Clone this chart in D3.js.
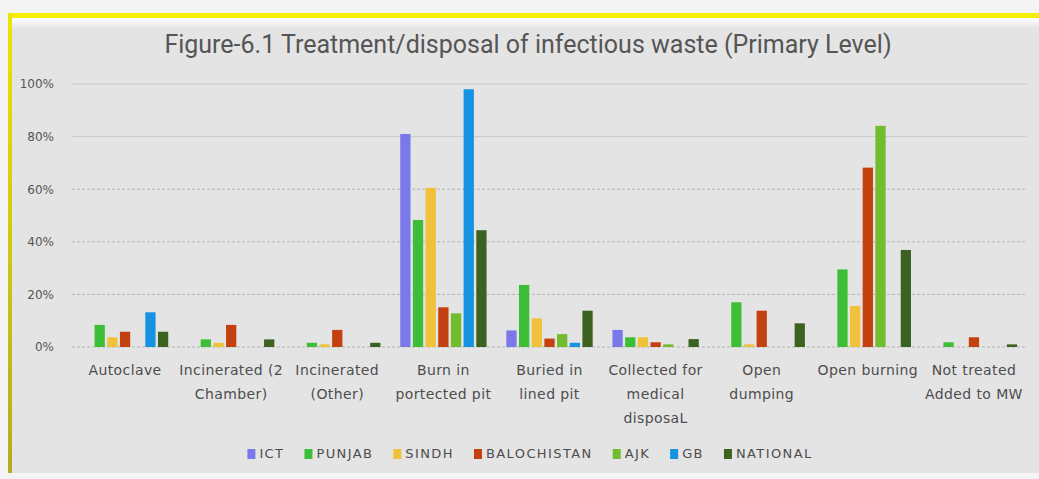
<html>
<head>
<script src="https://cdn.jsdelivr.net/npm/d3@7"></script>
<style>
  body { margin: 0; background: #f4f4f4; }
  text { font-family: "DejaVu Sans", sans-serif; }
</style>
</head>
<body>
<div id="chart"></div>
<script>
// data (percent)
const categories = [
  ["Autoclave"],
  ["Incinerated (2", "Chamber)"],
  ["Incinerated", "(Other)"],
  ["Burn in", "portected pit"],
  ["Buried in", "lined pit"],
  ["Collected for", "medical", "disposaL"],
  ["Open", "dumping"],
  ["Open burning"],
  ["Not treated", "Added to MW"]
];
const seriesNames = ["ICT", "PUNJAB", "SINDH", "BALOCHISTAN", "AJK", "GB", "NATIONAL"];
const ict         = [0, 0, 0, 81, 6.3, 6.5, 0, 0, 0];
const punjab      = [8.4, 2.9, 1.6, 48.3, 23.6, 3.7, 17, 29.5, 1.8];
const sindh       = [3.7, 1.6, 1.0, 60.5, 10.9, 3.7, 1.0, 15.6, 0];
const balochistan = [5.8, 8.4, 6.5, 15.1, 3.2, 1.8, 13.8, 68.2, 3.7];
const ajk         = [0, 0, 0, 12.8, 4.9, 1.0, 0, 84.1, 0];
const gb          = [13.2, 0, 0, 98, 1.6, 0, 0, 0, 0];
const national    = [5.8, 2.9, 1.6, 44.4, 13.8, 3.0, 9.0, 36.9, 1.0];
const yTicks = [0, 20, 40, 60, 80, 100];

const seriesValues = [ict, punjab, sindh, balochistan, ajk, gb, national];
const colors = ["#7b78ea", "#3cbe36", "#f0c23c", "#c2410f", "#72bc30", "#1592e0", "#3b6220"];

const w = 1039, h = 479;
const plotLeft = 72, plotRight = 1027, plotTop = 84, plotBottom = 347;

const svg = d3.select("#chart").append("svg")
  .attr("width", w).attr("height", h);

// frame / background
const defs = svg.append("defs");
const bevel = defs.append("linearGradient").attr("id", "bevel")
  .attr("x1", 0).attr("y1", 0).attr("x2", 0).attr("y2", 1);
bevel.append("stop").attr("offset", 0).attr("stop-color", "#ffffff");
bevel.append("stop").attr("offset", 1).attr("stop-color", "#e4e4e4");
const side = defs.append("linearGradient").attr("id", "side")
  .attr("x1", 0).attr("y1", 0).attr("x2", 0).attr("y2", 1);
side.append("stop").attr("offset", 0).attr("stop-color", "#ece400");
side.append("stop").attr("offset", 1).attr("stop-color", "#b4ac22");

svg.append("rect").attr("width", w).attr("height", h).attr("fill", "#f4f4f4");
svg.append("rect").attr("x", 8).attr("y", 13).attr("width", w - 8).attr("height", 460)
  .attr("fill", "#e4e4e4");
svg.append("rect").attr("x", 12).attr("y", 18).attr("width", w - 12).attr("height", 11)
  .attr("fill", "url(#bevel)");
svg.append("rect").attr("x", 8).attr("y", 13).attr("width", w - 8).attr("height", 5)
  .attr("fill", "#f6ee00");
svg.append("rect").attr("x", 8).attr("y", 13).attr("width", 4).attr("height", 460)
  .attr("fill", "url(#side)");

// title
svg.append("text")
  .attr("x", 528).attr("y", 53)
  .attr("text-anchor", "middle")
  .style("font-family", "'Roboto', sans-serif")
  .style("font-size", "25px")
  .attr("fill", "#555")
  .text("Figure-6.1 Treatment/disposal of infectious waste (Primary Level)");

// scales
const x0 = d3.scaleBand().domain(d3.range(categories.length)).range([plotLeft, plotRight]);
const x1 = d3.scaleBand().domain(d3.range(seriesNames.length))
  .range([0, x0.bandwidth()]).paddingInner(0.19).paddingOuter(0.78);
const y = d3.scaleLinear().domain([0, 100]).range([plotBottom, plotTop]);

// grid
svg.append("g").selectAll("line").data(yTicks).join("line")
  .attr("x1", plotLeft).attr("x2", plotRight)
  .attr("y1", d => y(d)).attr("y2", d => y(d))
  .attr("stroke", d => d >= 80 ? "#c9c9c9" : "#b4b4b4")
  .attr("stroke-width", 1)
  .attr("stroke-dasharray", d => d >= 80 ? null : "3,2");

// y axis labels
const yAxis = d3.axisLeft(y).tickValues(yTicks).tickFormat(d => d + "%").tickSize(0).tickPadding(0);
svg.append("g").attr("transform", "translate(54,0)").call(yAxis)
  .call(g => g.select(".domain").remove())
  .selectAll("text")
  .style("font-family", "'DejaVu Sans', sans-serif")
  .style("font-size", "12px").attr("fill", "#555");

// bars
const groups = svg.append("g").selectAll("g").data(seriesValues).join("g")
  .attr("fill", (d, i) => colors[i]);
groups.each(function (vals, si) {
  d3.select(this).selectAll("rect").data(vals).join("rect")
    .attr("x", (v, ci) => x0(ci) + x1(si))
    .attr("width", x1.bandwidth())
    .attr("y", v => y(v))
    .attr("height", v => plotBottom - y(v));
});

// x labels
const xl = svg.append("g").selectAll("text").data(categories).join("text")
  .attr("x", (d, i) => x0(i) + x0.bandwidth() / 2)
  .attr("y", 375)
  .attr("text-anchor", "middle")
  .style("font-size", "14px")
  .style("letter-spacing", "0.4px")
  .attr("fill", "#4d4d4d");
xl.selectAll("tspan").data(d => d).join("tspan")
  .attr("x", function () { return d3.select(this.parentNode).attr("x"); })
  .attr("dy", (d, i) => i === 0 ? 0 : 24)
  .text(d => d);

// legend
const legend = svg.append("g");
let lx = 0;
seriesNames.forEach((name, i) => {
  const item = legend.append("g").attr("transform", `translate(${lx},0)`);
  item.append("rect").attr("x", 0).attr("y", -9).attr("width", 8).attr("height", 10)
    .attr("fill", colors[i]);
  const t = item.append("text").attr("x", 12).attr("y", 0)
    .style("font-size", "13px").style("letter-spacing", "1.4px")
    .attr("fill", "#4d4d4d").text(name);
  lx += 12 + t.node().getComputedTextLength() + 20;
});
lx -= 20;
legend.attr("transform", `translate(${530 - lx / 2},458)`);
</script>
</body>
</html>
